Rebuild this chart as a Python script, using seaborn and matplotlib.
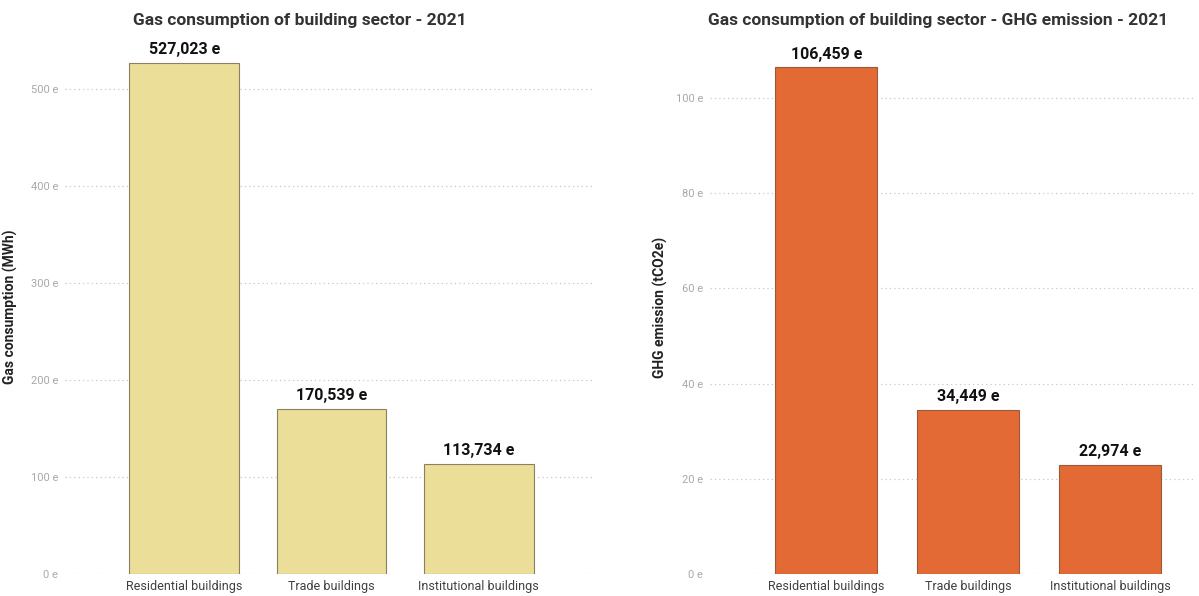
import matplotlib
matplotlib.use("Agg")
import matplotlib.pyplot as plt
import seaborn as sns
import pandas as pd

categories = ["Residential buildings", "Trade buildings", "Institutional buildings"]
gas_consumption = [527.023, 170.539, 113.734]   # thousands of MWh
ghg_emission = [106.459, 34.449, 22.974]        # thousands of tCO2e
left_ticks = [0, 100, 200, 300, 400, 500]
right_ticks = [0, 20, 40, 60, 80, 100]

sns.set_theme(style="white")
plt.rcParams['font.family'] = ['Roboto', 'DejaVu Sans']

W, H = 1199, 596
fig = plt.figure(figsize=(11.99, 5.96), dpi=100)
L1, R1 = 65, 595
L2, R2 = 710, 1195
ax1 = fig.add_axes([L1/W, 1-574/H, (R1-L1)/W, 534/H])
ax2 = fig.add_axes([L2/W, 1-574/H, (R2-L2)/W, 534/H])


def draw(ax, values, color, edge, title, ylabel, ticks, ylim, xlim, width,
         left, right, ylabel_x, title_x):
    df = pd.DataFrame({"cat": categories, "val": values})
    sns.barplot(data=df, x="cat", y="val", color=color,
                ax=ax, width=width, edgecolor=edge, linewidth=0.8, saturation=1)
    ax.set_ylim(*ylim)
    ax.set_xlim(*xlim)
    ax.set_yticks(ticks)
    ax.set_yticklabels([f"{t} e" for t in ticks], color="#a8a8a8", fontsize=8)
    ax.tick_params(axis="y", length=0, pad=5)
    ax.tick_params(axis="x", length=0, pad=4, labelsize=9, labelcolor="#404040")
    ax.set_xlabel("")
    ax.set_ylabel(ylabel, fontsize=10, fontweight="bold", color="#222222")
    span = right - left
    ax.yaxis.set_label_coords((ylabel_x - left) / span, 0.5)
    ax.grid(axis="y", linestyle=(0, (1, 2.5)), color="#c8c8c8", linewidth=0.9)
    ax.set_axisbelow(True)
    for s in ax.spines.values():
        s.set_visible(False)
    labels = [f"{int(v):d},{round((v - int(v))*1000):03d} e" for v in values]
    ax.bar_label(ax.containers[0], labels=labels, padding=4, fontsize=11.5,
                 fontweight="bold", color="#111111")
    ax.set_title(title, fontsize=12.5, fontweight="bold", color="#333333", pad=11,
                 x=(title_x - left) / span)

draw(ax1, gas_consumption, "#EBDE98", "#8a8060",
     "Gas consumption of building sector - 2021", "Gas consumption (MWh)",
     left_ticks, (0, 550.5), (-0.81, 2.79), 0.745, L1, R1, 18, 300)
draw(ax2, ghg_emission, "#E46A35", "#9a5a3a",
     "Gas consumption of building sector - GHG emission - 2021", "GHG emission (tCO2e)",
     right_ticks, (0, 112.2), (-0.82, 2.6), 0.72, L2, R2, 668, 938)

fig.savefig("out.png", dpi=100)
